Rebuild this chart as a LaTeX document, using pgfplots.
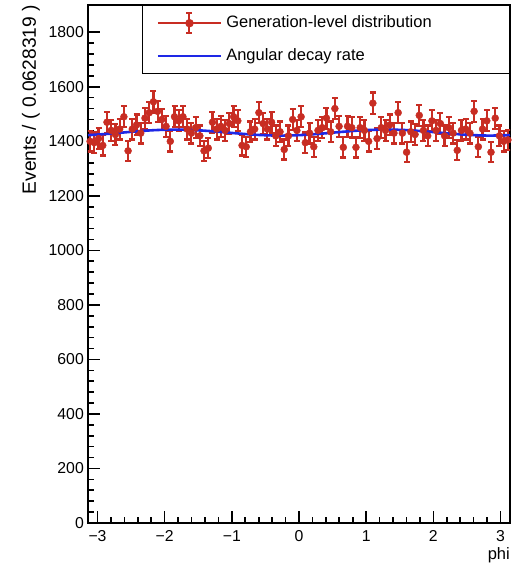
\documentclass[border=0pt]{standalone}
\usepackage{pgfplots}
\usepackage{pgfplotstable}
\pgfplotsset{compat=1.18}
\usepackage{fontspec}
\setmainfont{Liberation Sans}
\definecolor{rootred}{RGB}{200,45,35}
\definecolor{rootblue}{RGB}{30,40,230}
\newcommand{\rfont}{\fontsize{15.8bp}{18bp}\selectfont}
\newcommand{\lfont}{\fontsize{16.5bp}{19bp}\selectfont}
\newcommand{\yfont}{\fontsize{19.2bp}{22bp}\selectfont}
\pgfplotstableread{
x y e
-3.1102 1400 37.4
-3.0473 1395 37.3
-2.9845 1410 37.5
-2.9217 1385 37.2
-2.8588 1470 38.3
-2.7960 1440 37.9
-2.7332 1425 37.7
-2.6704 1445 38.0
-2.6075 1490 38.6
-2.5447 1365 36.9
-2.4819 1445 38.0
-2.4190 1460 38.2
-2.3562 1430 37.8
-2.2934 1485 38.5
-2.2305 1505 38.8
-2.1677 1545 39.3
-2.1049 1510 38.9
-2.0420 1480 38.5
-1.9792 1455 38.1
-1.9164 1400 37.4
-1.8535 1490 38.6
-1.7907 1475 38.4
-1.7279 1490 38.6
-1.6650 1445 38.0
-1.6022 1430 37.8
-1.5394 1450 38.1
-1.4765 1420 37.7
-1.4137 1365 36.9
-1.3509 1375 37.1
-1.2881 1470 38.3
-1.2252 1445 38.0
-1.1624 1455 38.1
-1.0996 1440 37.9
-1.0367 1465 38.3
-0.9739 1490 38.6
-0.9111 1475 38.4
-0.8482 1385 37.2
-0.7854 1380 37.1
-0.7226 1435 37.9
-0.6597 1445 38.0
-0.5969 1505 38.8
-0.5341 1465 38.3
-0.4712 1445 38.0
-0.4084 1470 38.3
-0.3456 1420 37.7
-0.2827 1435 37.9
-0.2199 1370 37.0
-0.1571 1420 37.7
-0.0942 1480 38.5
-0.0314 1440 37.9
0.0314 1490 38.6
0.0942 1395 37.3
0.1571 1430 37.8
0.2199 1380 37.1
0.2827 1440 37.9
0.3456 1450 38.1
0.4084 1485 38.5
0.4712 1435 37.9
0.5341 1520 39.0
0.5969 1455 38.1
0.6597 1378 37.1
0.7226 1455 38.1
0.7854 1450 38.1
0.8482 1378 37.1
0.9111 1450 38.1
0.9739 1440 37.9
1.0367 1400 37.4
1.0996 1540 39.2
1.1624 1410 37.5
1.2252 1450 38.1
1.2881 1440 37.9
1.3509 1460 38.2
1.4137 1430 37.8
1.4765 1505 38.8
1.5394 1430 37.8
1.6022 1360 36.9
1.6650 1435 37.9
1.7279 1425 37.7
1.7907 1495 38.7
1.8535 1440 37.9
1.9164 1420 37.7
1.9792 1475 38.4
2.0420 1440 37.9
2.1049 1465 38.3
2.1677 1420 37.7
2.2305 1450 38.1
2.2934 1430 37.8
2.3562 1367 37.0
2.4190 1440 37.9
2.4819 1445 38.0
2.5447 1430 37.8
2.6075 1510 38.9
2.6704 1380 37.1
2.7332 1445 38.0
2.7960 1475 38.4
2.8588 1360 36.9
2.9217 1485 38.5
2.9845 1420 37.7
3.0473 1400 37.4
3.1102 1405 37.5
}\datatable
\begin{document}
\rfont
\begin{tikzpicture}
\begin{axis}[
  scale only axis, width=422bp, height=518bp,
  xmin=-3.14159, xmax=3.14159, ymin=0, ymax=1900,
  axis line style={line width=1.8bp},
  tick align=inside, xtick pos=lower, ytick pos=left,
  major tick length=12bp, minor tick length=6bp,
  every tick/.style={black, line width=1.6bp},
  xtick={-3,-2,-1,0,1,2,3}, xticklabels={−3,−2,−1,0,1,2,3},
  ytick={0,200,400,600,800,1000,1200,1400,1600,1800},
  minor x tick num=4, minor y tick num=4,
  /pgf/number format/assume math mode=true,
  /pgf/number format/1000 sep={},
  ticklabel style={font=\rfont},
  xticklabel style={inner sep=0pt, yshift=-7bp},
  yticklabel style={inner sep=0pt, xshift=-4bp},
  xlabel={phi},
  ylabel={Events / ( 0.0628319 )},
  every axis x label/.style={at={(rel axis cs:1,0)}, anchor=north east, yshift=-24bp, inner sep=0pt, font=\lfont},
  every axis y label/.style={at={(rel axis cs:-0.1137,1)}, rotate=90, anchor=south east, inner sep=0pt, font=\yfont},
  legend cell align=left,
  legend style={at={(rel axis cs:1,1)}, anchor=north east, draw=black, line width=1.4bp, fill=white,
    inner xsep=14bp, inner ysep=1bp, row sep=0pt,
    nodes={font=\lfont, inner xsep=4bp, inner ysep=8.5bp, text height=12bp, text depth=4bp}},
]
\addplot[only marks, mark=*, mark size=3.5bp, color=rootred, mark options={fill=rootred, draw=rootred},
  error bars/.cd, y dir=both, y explicit,
  error bar style={line width=2.2bp, rootred},
  error mark options={rotate=90, mark size=3bp, line width=2.2bp, rootred},
  /pgfplots/legend image code/.code={
    \draw[rootred, line width=2bp] (0bp,0bp) -- (63bp,0bp);
    \draw[rootred, line width=2bp] (31.5bp,-10bp) -- (31.5bp,10bp);
    \draw[rootred, line width=2bp] (28.5bp,-10bp) -- (34.5bp,-10bp) (28.5bp,10bp) -- (34.5bp,10bp);
    \fill[rootred] (31.5bp,0bp) circle (3.5bp);
  }]
  table[x=x, y=y, y error=e] {\datatable};
\addlegendentry{\makebox[265bp][l]{Generation-level distribution}}
\addplot[rootblue, line width=2.6bp, smooth,
  legend image code/.code={\draw[rootblue, line width=2.6bp] (0bp,0bp) -- (63bp,0bp);}]
  coordinates {
  (-3.1416,1422.6) (-2.8274,1427.7) (-2.5133,1434.5) (-2.1991,1440.3) (-1.8850,1443.0)
  (-1.5708,1441.4) (-1.2566,1436.3) (-0.9425,1429.5) (-0.6283,1423.7) (-0.3142,1421.0)
  (0,1422.6) (0.3142,1427.7) (0.6283,1434.5) (0.9425,1440.3) (1.2566,1443.0)
  (1.5708,1441.4) (1.8850,1436.3) (2.1991,1429.5) (2.5133,1423.7) (2.8274,1421.0) (3.1416,1422.6)
  };
\addlegendentry{\makebox[265bp][l]{Angular decay rate}}
\end{axis}
\pgfresetboundingbox
\path ([xshift=-88bp,yshift=-50bp]current axis.south west) rectangle ([xshift=18bp,yshift=5bp]current axis.north east);
\end{tikzpicture}
\end{document}
